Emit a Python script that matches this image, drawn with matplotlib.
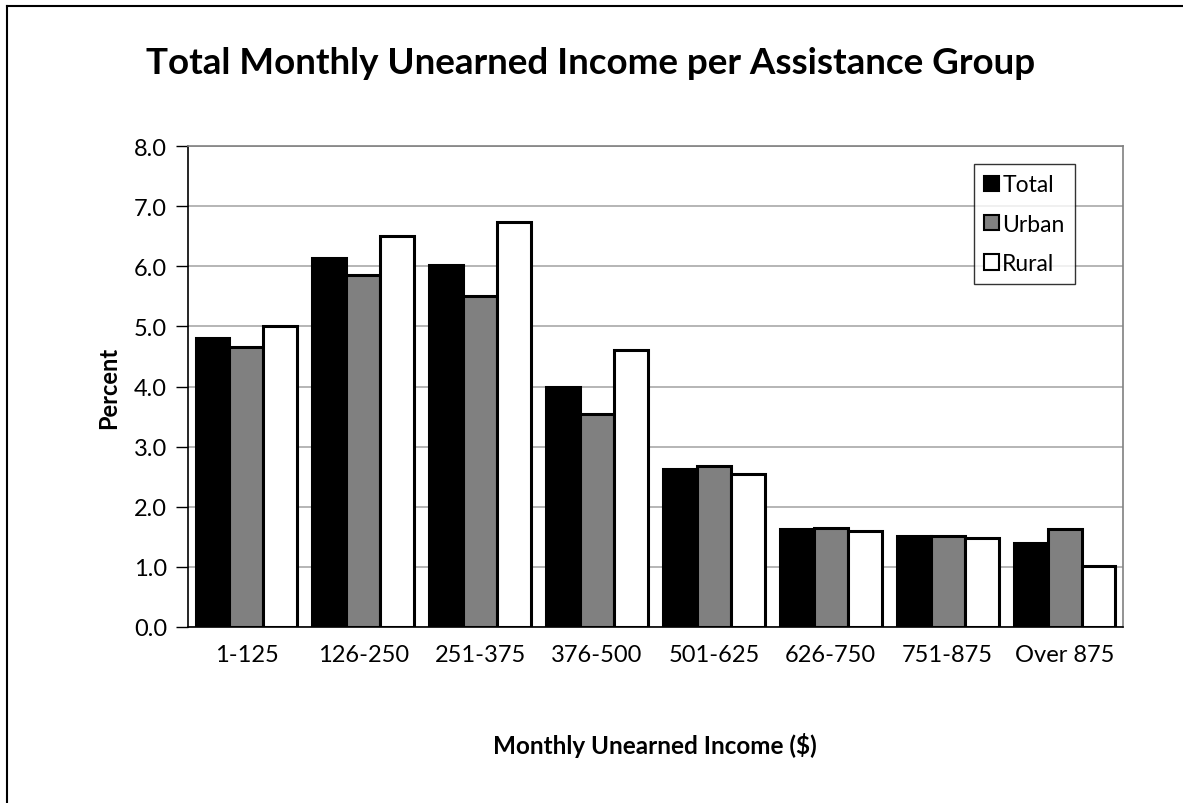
import matplotlib
matplotlib.use("Agg")
import matplotlib.pyplot as plt
import numpy as np
from matplotlib.lines import Line2D

categories = ["1-125", "126-250", "251-375", "376-500", "501-625", "626-750", "751-875", "Over 875"]
total = [4.81, 6.13, 6.02, 4.00, 2.63, 1.63, 1.51, 1.40]
urban = [4.65, 5.86, 5.51, 3.55, 2.68, 1.64, 1.52, 1.63]
rural = [5.00, 6.50, 6.74, 4.60, 2.54, 1.60, 1.48, 1.02]
series_names = ["Total", "Urban", "Rural"]
yticks = [0, 1, 2, 3, 4, 5, 6, 7, 8]

plt.rcParams['font.family'] = ['Lato', 'DejaVu Sans']

W, H = 1183, 804
fig = plt.figure(figsize=(W / 100, H / 100), dpi=100)
ax = fig.add_axes([188 / W, 1 - 628 / H, (1123 - 188) / W, (628 - 147) / H])

x = np.arange(len(categories))
bw = 0.29
colors = ["#000000", "#808080", "#ffffff"]
for i, (vals, c, name) in enumerate(zip([total, urban, rural], colors, series_names)):
    ax.bar(x + (i - 1) * bw, vals, bw, color=c, edgecolor="black", linewidth=2.2,
           label=name, zorder=3)

ax.set_xlim(-0.5, len(categories) - 0.5)
ax.set_ylim(0, 8)
ax.set_yticks(yticks)
ax.set_yticklabels([f"{v:.1f}" for v in yticks], fontsize=17)
ax.set_xticks(x)
ax.set_xticklabels(categories, fontsize=17)
ax.tick_params(axis="x", length=0, pad=12)
ax.tick_params(axis="y", length=9, width=1, direction="out", pad=6)
ax.yaxis.grid(True, color="#b0b0b0", linewidth=1.3, zorder=0)
ax.set_axisbelow(True)
for s in ["top", "right"]:
    ax.spines[s].set_color("#808080")
    ax.spines[s].set_linewidth(1.2)
for s in ["left", "bottom"]:
    ax.spines[s].set_color("black")
    ax.spines[s].set_linewidth(1.2)

ax.set_ylabel("Percent", fontsize=17, fontweight="bold", labelpad=10)
fig.text(655 / W, 1 - 746 / H, "Monthly Unearned Income ($)", fontsize=17.5,
         fontweight="bold", ha="center", va="center")
fig.text(591 / W, 1 - 64 / H, "Total Monthly Unearned Income per Assistance Group",
         fontsize=26.5, fontweight="bold", ha="center", va="center")

leg = ax.legend(loc="upper right", bbox_to_anchor=((1075 - 188) / (1123 - 188), (628 - 165) / (628 - 147)),
                fontsize=16.5, frameon=True, fancybox=False, edgecolor="black",
                handlelength=0.65, handleheight=0.65, handletextpad=0.15,
                labelspacing=0.8, borderpad=0.45, borderaxespad=0)
leg.get_frame().set_linewidth(1.0)
for h in leg.legend_handles:
    h.set_linewidth(1.5)

fig.add_artist(Line2D([7 / W, 7 / W], [0, 1 - 7 / H], color="black", linewidth=1.5,
                      transform=fig.transFigure))
fig.add_artist(Line2D([7 / W, 1], [1 - 7 / H, 1 - 7 / H], color="black", linewidth=1.5,
                      transform=fig.transFigure))

fig.savefig("out.png", dpi=100)
